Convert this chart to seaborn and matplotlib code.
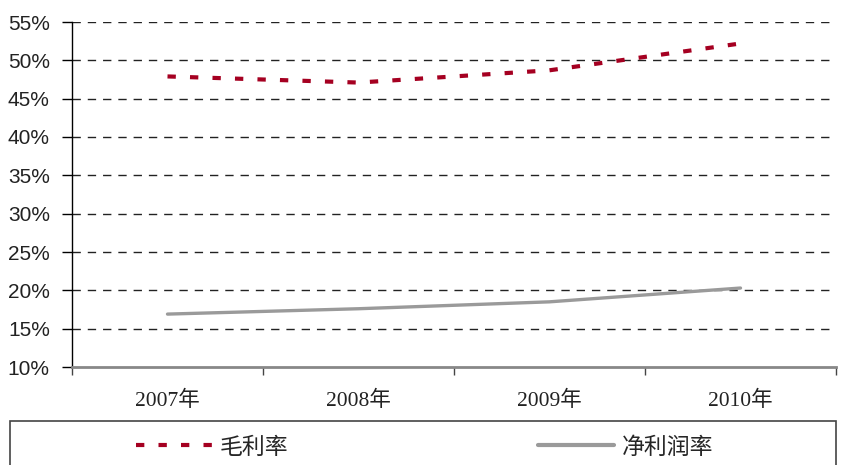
import matplotlib
matplotlib.use('Agg')
import matplotlib.pyplot as plt
import matplotlib.patches as mpatches
from matplotlib.lines import Line2D
import seaborn as sns
import pandas as pd

# data
years = ['2007年', '2008年', '2009年', '2010年']
gross_margin = [47.9, 47.1, 48.7, 52.2]
net_margin = [16.9, 17.6, 18.5, 20.3]
y_ticks = [10, 15, 20, 25, 30, 35, 40, 45, 50, 55]

sns.set_style("white")
plt.rcParams['font.family'] = ['Liberation Serif', 'Noto Sans CJK SC', 'DejaVu Sans']

red = '#A50021'
gray = '#9A9A9A'

df = pd.DataFrame({'year': years, 'gross': gross_margin, 'net': net_margin})
df['x'] = range(len(df))

fig = plt.figure(figsize=(8.44, 4.65), dpi=100)
ax = fig.add_axes([72 / 844, 1 - 367 / 465, (836 - 72) / 844, (367 - 22) / 465])

sns.lineplot(data=df, x='x', y='gross', ax=ax, color=red, lw=3,
             dashes=False, zorder=3).lines[-1].set_dashes([2.0, 3.4])
sns.lineplot(data=df, x='x', y='net', ax=ax, color=gray, lw=2.4, zorder=3)

ax.set_xlim(-0.5, 3.5)
ax.set_ylim(10, 55)
ax.set_xlabel('')
ax.set_ylabel('')

# y axis
ax.set_yticks(y_ticks)
ax.set_yticklabels([f'{v}%' for v in y_ticks],
                   family=['Liberation Sans', 'DejaVu Sans'],
                   fontsize=15, color='#222222')
ax.tick_params(axis='y', left=True, length=7, width=1, color='black', pad=9)
for v in y_ticks[1:]:
    ax.axhline(v, color='#222222', lw=1, ls=(0, (6, 5)), zorder=1)

# x axis: labels centered, ticks at category boundaries
ax.set_xticks(range(len(years)))
ax.set_xticklabels(years, fontsize=15.5, color='#222222')
ax.tick_params(axis='x', bottom=False, length=0, pad=17)
ax.set_xticks([-0.5, 0.5, 1.5, 2.5, 3.5], minor=True)
ax.tick_params(axis='x', which='minor', bottom=True, length=6, width=1, color='#444444')

for s in ['top', 'right']:
    ax.spines[s].set_visible(False)
ax.spines['left'].set_color('black')
ax.spines['left'].set_linewidth(1)
ax.spines['bottom'].set_color('#888888')
ax.spines['bottom'].set_linewidth(2)
ax.spines['bottom'].set_zorder(4)

# legend box at the bottom
fig.patches.append(mpatches.Rectangle((10 / 844, -0.02), 826 / 844, 0.02 + 1 - 421 / 465,
                                      transform=fig.transFigure, fill=False,
                                      ec='#444444', lw=1.2))
handles = [Line2D([], [], color=red, lw=3, dashes=[2.0, 3.4]),
           Line2D([], [], color=gray, lw=3)]
fig.legend(handles, ['毛利率', '净利润率'], ncol=2, frameon=False,
           loc='center left', bbox_to_anchor=(136 / 844, 1 - 447 / 465),
           borderpad=0, borderaxespad=0, handlelength=3.3, handletextpad=0.35,
           columnspacing=10.9,
           prop={'family': ['Noto Sans CJK SC', 'DejaVu Sans'], 'size': 16.5})

fig.savefig('out.png', dpi=100)
